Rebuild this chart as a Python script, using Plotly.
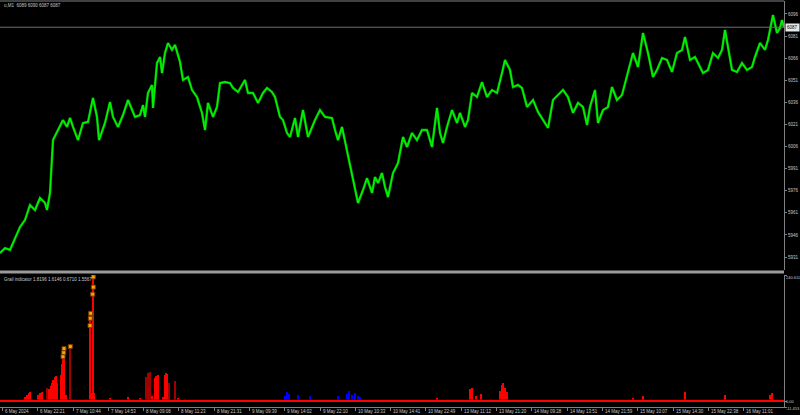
import plotly.graph_objects as go

# ---------------- data ----------------
bar_pos = [0,5,10,13,17,20,25,30,35,40,45,47,50,52,53,58,63,67,70,73,78,83,88,93,97,99,105,110,113,118,
           123,128,135,140,143,145,148,152,153,157,160,162,165,168,172,175,180,183,188,192,197,202,205,208,213,
           217,220,225,230,233,238,245,248,253,258,263,267,272,275,280,283,287,290,295,298,303,308,315,320,325,
           332,335,338,342,347,352,355,358,363,367,372,375,378,382,385,388,393,398,403,407,412,417,422,427,432,
           437,440,443,447,452,457,460,465,468,472,477,482,487,492,497,502,505,510,513,518,522,527,533,538,543,
           548,553,558,563,568,573,578,583,587,590,595,598,603,608,612,617,622,627,633,638,643,648,653,657,662,
           667,672,677,682,685,690,695,700,703,708,713,718,722,725,728,732,737,742,747,752,755,760,765,768,773,
           777,780,782,784]
price = [5933.7,5937.1,5935.8,5940.5,5947.3,5951.4,5956.1,5966.3,5962.9,5971.1,5967.7,5962.9,5974.5,5994.8,6010.4,
         6017.2,6024.0,6019.3,6025.4,6019.3,6010.4,6022.0,6022.7,6039.0,6026.1,6010.4,6022.0,6036.2,6026.1,6019.3,
         6027.4,6037.6,6026.1,6027.4,6034.2,6026.1,6042.4,6047.8,6032.2,6062.7,6066.8,6055.9,6069.5,6076.3,6071.6,
         6075.0,6063.4,6051.2,6053.2,6044.4,6039.6,6028.8,6017.2,6035.6,6026.1,6032.9,6049.1,6049.8,6049.1,6045.8,
         6043.0,6051.2,6042.4,6042.4,6035.6,6042.4,6045.8,6043.0,6039.6,6026.1,6024.0,6015.2,6012.5,6025.4,6012.5,
         6030.8,6012.5,6024.0,6030.8,6026.1,6025.4,6017.2,6010.4,6019.3,6003.7,5988.0,5976.5,5967.7,5976.5,5984.6,
         5974.5,5985.3,5981.2,5988.0,5978.5,5971.7,5988.0,5994.8,6012.5,6005.7,6015.2,6010.4,6017.2,6017.2,6005.7,
         6032.2,6015.2,6008.4,6019.3,6030.8,6022.0,6028.8,6019.3,6024.0,6042.4,6039.6,6049.8,6039.6,6044.4,6042.4,
         6055.9,6064.8,6058.0,6046.4,6047.8,6045.8,6032.9,6037.6,6029.5,6024.0,6018.6,6037.6,6041.0,6044.4,6039.6,
         6028.8,6035.6,6032.9,6020.6,6032.9,6044.4,6022.0,6030.8,6032.9,6046.4,6037.6,6041.0,6053.2,6069.5,6060.0,
         6083.1,6069.5,6053.2,6058.0,6066.1,6064.8,6056.6,6069.5,6071.6,6080.4,6064.8,6066.8,6060.0,6055.9,6058.0,
         6069.5,6066.1,6071.6,6085.1,6073.6,6058.0,6056.6,6062.7,6058.0,6060.0,6066.8,6076.3,6071.6,6078.3,6095.3,
         6083.1,6086.5,6091.9,6087.0]
last_price = 6087

price_ticks = [6096, 6081, 6066, 6051, 6036, 6021, 6006, 5991, 5976, 5961, 5946, 5931]

# indicator histogram (red)
red_pos = [25,27,29,30,38,40,42,49,51,52,53,55,56,57,61,62,63,64,66,90,91,92,93,94,110,128,140,152,155,156,157,158,
           163,165,166,167,178,437,470,471,472,476,481,500,502,503,505,507,633,643,685,725,770,772]
red_val = [8,12,15,17,12,15,18,22,28,35,40,46,48,35,50,70,85,100,12,170,15,15,238,15,5,8,6,10,44,48,46,50,
           8,50,54,52,5,6,22,12,25,10,14,20,30,35,25,18,5,10,18,12,12,15]
# indicator histogram (dark red)
dred_pos = [47,70,146,148,150,169,175]
dred_val = [25,104,45,54,55,35,38]
# indicator histogram (blue)
blue_pos = [285,287,289,298,310,338,347,349,352,355,358,360]
blue_val = [10,18,14,12,10,9,14,19,12,16,10,8]
# signal markers
mk_pos = [63,63.7,64,70.3,90,90.3,90.7,92.7,93.3,93.3]
mk_val = [84.7,92.4,100,104,144,158,167.5,204,217.5,237]
# baseline
base_pos = [0, 784]
base_val = [0, 0]
ind_min, ind_max = -11.453, 240.61
ind_labels = ["240.610", "0.00", "-11.453"]

tick_pos = [2,37,73,108,143,178,214,249,284,320,355,390,425,461,496,531,567,602,637,673,708,743]
tick_lbl = ["6 May 2024","6 May 22:21","7 May 10:44","7 May 14:53","8 May 09:08","8 May 11:23","8 May 21:31",
            "9 May 09:39","9 May 14:02","9 May 22:10","10 May 10:33","10 May 14:41","10 May 22:49","13 May 11:12",
            "13 May 21:20","14 May 09:28","14 May 13:51","14 May 21:59","15 May 10:07","15 May 14:30",
            "15 May 22:38","16 May 11:01"]

# ---------------- figure ----------------
W, H = 800, 415
TXT = "#c8c8c8"
GRID = "#808080"
FONT = "Liberation Sans"
FS = 4.5
XD = [0, 784 / W]
main_dom = [1 - 270 / H, 1 - 1 / H]
ind_dom = [1 - 407 / H, 1 - 275 / H]

fig = go.Figure()
fig.add_trace(go.Scatter(x=bar_pos, y=price, mode="lines", line=dict(color="#00C800", width=2.4),
                         xaxis="x", yaxis="y", hoverinfo="skip"))
fig.add_trace(go.Scatter(x=bar_pos, y=price, mode="lines", line=dict(color="#00FF00", width=0.9),
                         xaxis="x", yaxis="y", hoverinfo="skip"))

fig.add_trace(go.Scatter(x=base_pos, y=[v + 2 for v in base_val], mode="lines",
                         line=dict(color="#000090", width=1), xaxis="x2", yaxis="y2"))
fig.add_trace(go.Bar(x=blue_pos, y=blue_val, width=1.2, marker=dict(color="#0000FF", line_width=0),
                     xaxis="x2", yaxis="y2"))
fig.add_trace(go.Bar(x=red_pos, y=red_val, width=1.2, marker=dict(color="#FF0000", line_width=0),
                     xaxis="x2", yaxis="y2"))
fig.add_trace(go.Bar(x=dred_pos, y=dred_val, width=0.9, marker=dict(color="#A00000", line_width=0),
                     xaxis="x2", yaxis="y2"))
fig.add_trace(go.Scatter(x=base_pos, y=base_val, mode="lines", line=dict(color="#FF0000", width=2),
                         xaxis="x2", yaxis="y2"))
fig.add_trace(go.Scatter(x=mk_pos, y=mk_val, mode="markers",
                         marker=dict(symbol="square", size=4, color="#FFA500",
                                     line=dict(color="#7a3a00", width=1)),
                         xaxis="x2", yaxis="y2"))

axis_common = dict(showgrid=False, zeroline=False, fixedrange=True, automargin=False)
fig.update_layout(
    width=W, height=H, margin=dict(l=0, r=0, t=0, b=0, autoexpand=False),
    paper_bgcolor="black", plot_bgcolor="black", showlegend=False,
    barmode="overlay", bargap=0,
    font=dict(family=FONT, size=FS, color=TXT),
    xaxis=dict(domain=XD, range=[0, 784], anchor="y", showticklabels=False, showline=False, **axis_common),
    xaxis2=dict(domain=XD, range=[0, 784], anchor="y2", showticklabels=False, showline=True,
                linecolor=GRID, linewidth=1, ticks="outside", ticklen=3, tickcolor=GRID,
                tickvals=tick_pos, **axis_common),
    yaxis=dict(domain=main_dom, range=[5922.2, 6104.8], anchor="x", side="right",
               tickvals=price_ticks, ticks="outside", ticklen=2, tickcolor=GRID,
               tickfont=dict(size=FS, color=TXT, family=FONT),
               showline=True, linecolor=GRID, linewidth=1, **axis_common),
    yaxis2=dict(domain=ind_dom, range=[ind_min, ind_max], anchor="x2", side="right",
                tickvals=[ind_max, 0, ind_min], ticks="outside", ticklen=2, tickcolor=GRID,
                showticklabels=False,
                showline=True, linecolor=GRID, linewidth=1, **axis_common),
)

shapes = [
    dict(type="line", xref="paper", yref="paper", x0=0, x1=XD[1], y0=1 - 1 / H, y1=1 - 1 / H,
         line=dict(color=GRID, width=1)),
    dict(type="rect", xref="paper", yref="paper", x0=0, x1=XD[1], y0=1 - 273.5 / H, y1=1 - 270.5 / H,
         line=dict(width=0), fillcolor="#9a9a9a"),
    dict(type="line", xref="x", yref="y", x0=0, x1=784, y0=last_price, y1=last_price,
         line=dict(color="#707070", width=1)),
]
fig.update_layout(shapes=shapes)

ann = [
    dict(text="u,M1  6089 6090 6087 6087", xref="paper", yref="paper", x=2 / W, y=1 - 5 / H,
         xanchor="left", yanchor="middle", showarrow=False, font=dict(size=FS, color=TXT, family=FONT)),
    dict(text="Grail indicator 1.8196 1.6146 0.6710 1.5567", xref="paper", yref="paper", x=2 / W,
         y=1 - 279 / H, xanchor="left", yanchor="middle", showarrow=False,
         font=dict(size=FS, color=TXT, family=FONT)),
    dict(text=str(last_price), xref="paper", yref="y", x=785 / W, y=last_price, xanchor="left",
         yanchor="middle", showarrow=False, bgcolor="#e8e8e8", borderpad=1,
         font=dict(size=FS, color="black", family=FONT)),
]
for v, t, ys in zip([ind_max, 0, ind_min], ind_labels, [-2, 0, -1]):
    ann.append(dict(text=t, xref="paper", yref="y2", x=785 / W, y=v, xanchor="left", yanchor="middle",
                    yshift=ys, borderpad=0, showarrow=False, font=dict(size=4, color=TXT, family=FONT)))
for p, t in zip(tick_pos, tick_lbl):
    ann.append(dict(text=t, xref="x2", yref="paper", x=p, y=1 - 411 / H, xanchor="left", yanchor="middle",
                    xshift=1, showarrow=False, font=dict(size=FS, color=TXT, family=FONT)))
fig.update_layout(annotations=ann)

fig.write_html("out.html", config={"displayModeBar": False},
               post_script="document.body.style.margin='0';document.body.style.padding='0';"
                           "document.body.style.overflow='hidden';")
